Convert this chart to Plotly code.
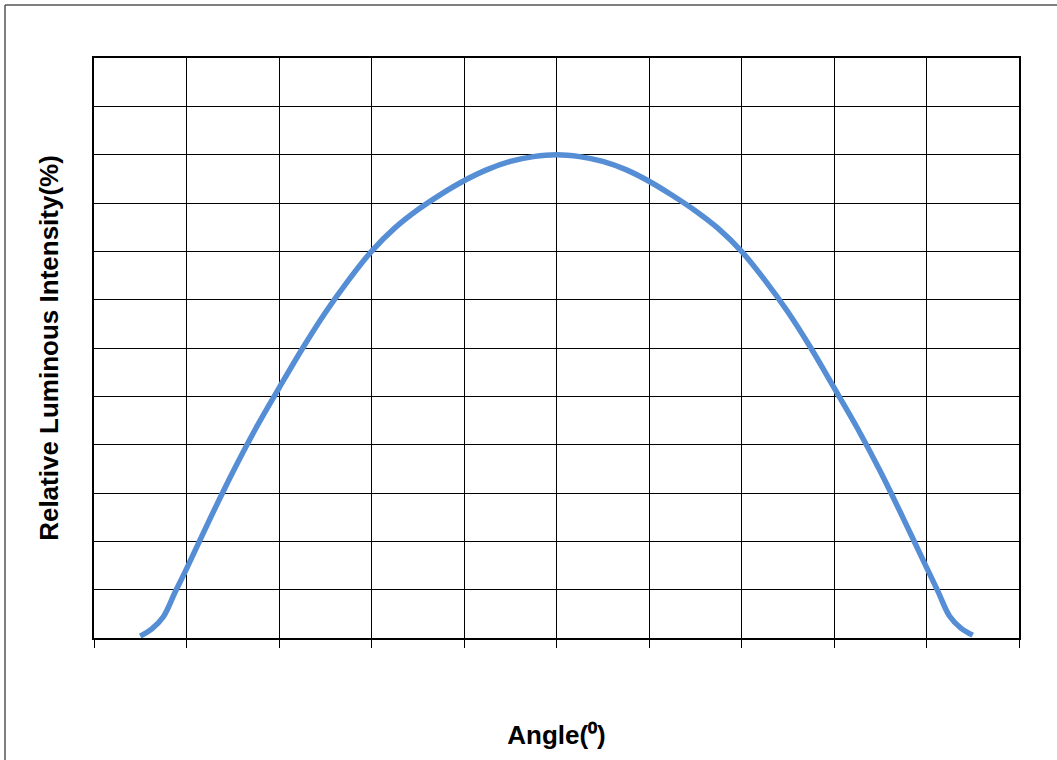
import plotly.graph_objects as go

angles = [-90, -87.5, -85, -82.5, -80, -75, -70, -65, -60, -55, -50, -45, -40, -35, -30, -25, -20, -15, -10, -5, 0,
          5, 10, 15, 20, 25, 30, 35, 40, 45, 50, 55, 60, 65, 70, 75, 80, 82.5, 85, 87.5, 90]
intensity = [0.4, 1.9, 4.4, 9.4, 14.3, 24.5, 34.3, 43.4, 51.7, 59.8, 67.3, 74.0, 80.0, 84.8, 88.6, 91.8, 94.6, 96.9, 98.6, 99.6, 100.0,
             99.6, 98.6, 96.9, 94.5, 91.6, 88.4, 84.7, 80.0, 74.1, 67.5, 60.0, 51.8, 43.5, 34.5, 24.7, 14.6, 9.6, 4.5, 2.0, 0.6]

x_title = "Angle(⁰)"
y_title = "Relative Luminous Intensity(%)"

title_font = dict(size=26, color="black", family="Liberation Sans, Arial, sans-serif")

fig = go.Figure()
fig.add_trace(go.Scatter(
    x=angles, y=intensity, mode="lines",
    line=dict(color="#558ED5", width=5.5, shape="spline", smoothing=1.0),
    showlegend=False, hoverinfo="x+y",
))

fig.update_layout(
    width=1057, height=760,
    margin=dict(l=94, r=38, t=58, b=122),
    paper_bgcolor="white", plot_bgcolor="white",
    font=dict(family="Liberation Sans, Arial, sans-serif", color="black"),
    shapes=[
        dict(type="line", xref="paper", yref="paper", x0=-0.0962, x1=1.2, y0=1.0914, y1=1.0914,
             line=dict(color="#555555", width=1.5)),
        dict(type="line", xref="paper", yref="paper", x0=-0.0962, x1=-0.0962, y0=1.0914, y1=-0.3,
             line=dict(color="#555555", width=1.5)),
    ],
)
fig.update_xaxes(
    range=[-100, 100], dtick=20, tick0=-100, showticklabels=False,
    ticks="outside", ticklen=8, tickcolor="black", tickwidth=1,
    showgrid=True, gridcolor="black", gridwidth=1,
    showline=True, linecolor="black", linewidth=1.5, mirror=True,
    zeroline=False,
    title=dict(text="<b>" + x_title + "</b>", font=title_font, standoff=79),
    automargin=False,
)
fig.update_yaxes(
    range=[0, 120], dtick=10, tick0=0, showticklabels=False, ticks="",
    showgrid=True, gridcolor="black", gridwidth=1,
    showline=True, linecolor="black", linewidth=1.5, mirror=True,
    zeroline=False,
    title=dict(text="<b>" + y_title + "</b>", font=title_font, standoff=26),
    automargin=False,
)

fig.write_html("out.html", config={"displayModeBar": False},
               post_script="document.body.style.margin='0';document.body.style.padding='0';")
